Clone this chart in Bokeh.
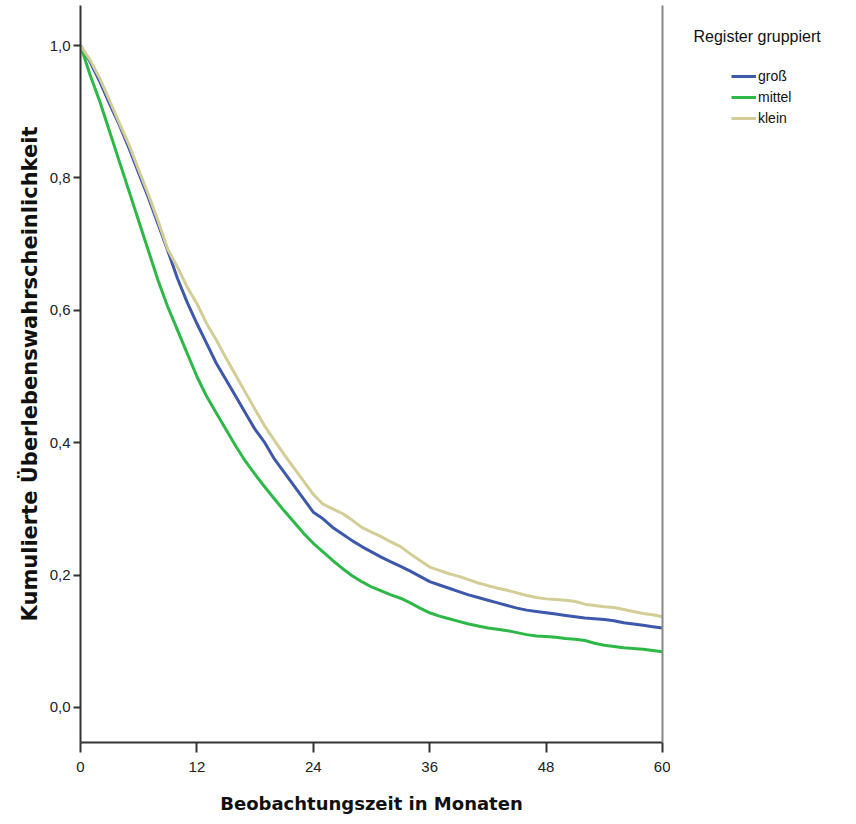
from bokeh.plotting import figure
from bokeh.layouts import row
from bokeh.models import (Range1d, FixedTicker, CustomJSTickFormatter, LinearAxis,
                          Legend, LegendItem, Label)
from bokeh.embed import file_html
from bokeh.resources import INLINE

months = list(range(61))
gross = [1.0, 0.975, 0.945, 0.912, 0.88, 0.845, 0.807, 0.77, 0.73, 0.69, 0.648, 0.612, 0.58,
         0.55, 0.52, 0.495, 0.47, 0.445, 0.42, 0.40, 0.375, 0.355, 0.335, 0.315, 0.295,
         0.285, 0.272, 0.262, 0.252, 0.243, 0.235, 0.227, 0.22, 0.213, 0.206, 0.198, 0.19,
         0.185, 0.18, 0.175, 0.17, 0.166, 0.162, 0.158, 0.154, 0.15, 0.147, 0.145, 0.143,
         0.141, 0.139, 0.137, 0.135, 0.134, 0.133, 0.131, 0.128, 0.126, 0.124, 0.122, 0.12]
mittel = [1.0, 0.955, 0.915, 0.87, 0.825, 0.78, 0.735, 0.69, 0.645, 0.605, 0.57, 0.535, 0.50,
          0.47, 0.445, 0.42, 0.395, 0.372, 0.352, 0.333, 0.315, 0.297, 0.28, 0.263, 0.248,
          0.235, 0.222, 0.21, 0.199, 0.19, 0.182, 0.176, 0.17, 0.165, 0.158, 0.15, 0.143,
          0.138, 0.134, 0.13, 0.126, 0.123, 0.12, 0.118, 0.116, 0.113, 0.11, 0.108, 0.107,
          0.106, 0.104, 0.103, 0.101, 0.097, 0.094, 0.092, 0.09, 0.089, 0.088, 0.086, 0.084]
klein = [1.0, 0.978, 0.95, 0.917, 0.883, 0.85, 0.812, 0.775, 0.735, 0.692, 0.665, 0.635, 0.61,
         0.58, 0.555, 0.528, 0.502, 0.476, 0.45, 0.425, 0.403, 0.382, 0.362, 0.342, 0.322,
         0.307, 0.300, 0.293, 0.283, 0.272, 0.265, 0.258, 0.25, 0.243, 0.232, 0.222, 0.212,
         0.207, 0.202, 0.198, 0.193, 0.188, 0.184, 0.18, 0.177, 0.173, 0.169, 0.166, 0.164,
         0.163, 0.162, 0.16, 0.156, 0.154, 0.152, 0.151, 0.148, 0.145, 0.142, 0.14, 0.137]

x_ticks = [0, 12, 24, 36, 48, 60]
y_ticks = [0.0, 0.2, 0.4, 0.6, 0.8, 1.0]
series_names = ["groß", "mittel", "klein"]
colors = ["#3E58AC", "#2EB848", "#D3CE97"]
legend_title = "Register gruppiert"

FONT = "Liberation Sans"
TITLE_FONT = "DejaVu Sans"

H = 820
p = figure(width=670, height=H, output_backend="svg", toolbar_location=None,
           x_range=Range1d(0, 60), y_range=Range1d(-0.053, 1.0605),
           min_border_left=80, min_border_right=8, min_border_top=5, min_border_bottom=78)
p.outline_line_color = None
p.grid.grid_line_color = None

renderers = []
for ys, c in zip([gross, mittel, klein], colors):
    r = p.line(months, ys, line_color=c, line_width=3)
    renderers.append(r)

ax = p.xaxis[0]
ax.ticker = FixedTicker(ticks=x_ticks)
ax.axis_label = "Beobachtungszeit in Monaten"
ay = p.yaxis[0]
ay.ticker = FixedTicker(ticks=y_ticks)
ay.formatter = CustomJSTickFormatter(code="return tick.toFixed(1).replace('.', ',')")
ay.axis_label = "Kumulierte Überlebenswahrscheinlichkeit"

for a in (ax, ay):
    a.minor_tick_line_color = None
    a.major_tick_in = 0
    a.axis_line_color = "#333333"
    a.axis_line_width = 2
    a.major_tick_line_color = "#333333"
    a.major_tick_line_width = 2
    a.major_label_text_font = FONT
    a.major_label_text_font_size = "15px"
    a.major_label_text_color = "#222222"
    a.axis_label_text_font = TITLE_FONT
    a.axis_label_text_font_style = "bold"
    a.axis_label_text_color = "#111111"
ax.axis_label_text_font_size = "18px"
ay.axis_label_text_font_size = "21px"
ax.major_tick_out = 10
ay.major_tick_out = 7
ax.major_label_standoff = 9
ax.axis_label_standoff = 18
ay.major_label_standoff = 3
ay.axis_label_standoff = 5

right = LinearAxis(ticker=FixedTicker(ticks=[]), axis_line_color="#888888", axis_line_width=2,
                   major_tick_line_color=None, minor_tick_line_color=None,
                   major_label_text_font_size="0px")
p.add_layout(right, "right")

# legend panel
W2 = 180
p2 = figure(width=W2, height=H, output_backend="svg", toolbar_location=None,
            x_range=Range1d(0, W2), y_range=Range1d(0, H),
            min_border_left=0, min_border_right=0, min_border_top=0, min_border_bottom=0)
p2.axis.visible = False
p2.grid.grid_line_color = None
p2.outline_line_color = None

nan = float("nan")
dummies = [p2.line(x=[nan, nan], y=[nan, nan], line_color=c, line_width=3) for c in colors]
items = [LegendItem(label=n, renderers=[r]) for n, r in zip(series_names, dummies)]
leg = Legend(items=items, location="top_left", orientation="vertical",
             border_line_color=None, background_fill_alpha=0,
             label_text_font=FONT, label_text_font_size="14px", label_text_color="#111111",
             glyph_width=25, glyph_height=20, label_standoff=2, spacing=1,
             padding=0, margin=61, label_height=20)
p2.add_layout(leg, "center")
p2.add_layout(Label(x=23, y=H - 34, text=legend_title, text_font=FONT,
                    text_font_size="16px", text_color="#111111",
                    text_baseline="middle", text_align="left"))

layout = row(p, p2, spacing=0)
open("out.html", "w").write(file_html(layout, INLINE))
